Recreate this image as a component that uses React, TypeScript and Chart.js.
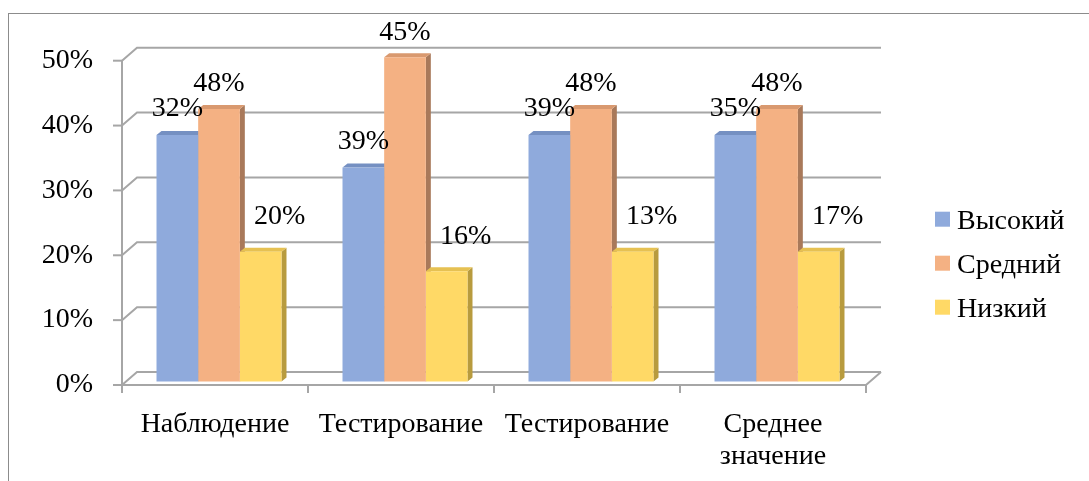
import React, { useEffect, useRef } from 'react';
import { Chart, registerables } from 'chart.js';

Chart.register(...registerables);

// ---- data ----
const categories: (string | string[])[] = ['Наблюдение', 'Тестирование', 'Тестирование', ['Среднее', 'значение']];
const seriesNames = ['Высокий', 'Средний', 'Низкий'];
const highValues = [38, 33, 38, 38];
const midValues = [42, 50, 42, 42];
const lowValues = [20, 17, 20, 20];
const highLabels = ['32%', '39%', '39%', '35%'];
const midLabels = ['48%', '45%', '48%', '48%'];
const lowLabels = ['20%', '16%', '13%', '17%'];
const yMin = 0;
const yMax = 50;
const yStep = 10;

// ---- styles ----
const FONT = "'Liberation Serif', 'Times New Roman', serif";
const FONT_SIZE = 28;
const frontColors = ['#8FAADC', '#F4B183', '#FFD966'];
const sideColors = ['#6E86B3', '#A9795A', '#B89B3E'];
const topColors = ['#7590C2', '#D9996F', '#E6C152'];
const GRID = '#A6A6A6';
const WALL_DX = 15;
const WALL_DY = 13;
const BAR_SHIFT_X = 4;
const BAR_SHIFT_Y = -3.5;
const BAR_DX = 5;
const BAR_DY = 4;
const labelDx = [0, 0, 19];
const labelDy = [-26, -25, -35];

const plot3d = {
  id: 'plot3d',
  beforeDatasetsDraw(chart: any) {
    const { ctx, chartArea: a, scales } = chart;
    const x = scales.x;
    const y = scales.y;
    ctx.save();
    ctx.strokeStyle = GRID;
    ctx.lineWidth = 2;
    y.ticks.forEach((t: any) => {
      const fy = y.getPixelForValue(t.value);
      ctx.beginPath();
      ctx.moveTo(a.left, fy);
      ctx.lineTo(a.left + WALL_DX, fy - WALL_DY);
      ctx.lineTo(a.right + WALL_DX, fy - WALL_DY);
      ctx.stroke();
      ctx.beginPath();
      ctx.moveTo(a.left - 9, fy);
      ctx.lineTo(a.left, fy);
      ctx.stroke();
    });
    const top = y.getPixelForValue(yMax);
    const bottom = y.getPixelForValue(yMin);
    ctx.beginPath();
    ctx.moveTo(a.left, top);
    ctx.lineTo(a.left, bottom + 8);
    ctx.stroke();
    ctx.beginPath();
    ctx.moveTo(a.left, bottom);
    ctx.lineTo(a.right, bottom);
    ctx.lineTo(a.right + WALL_DX, bottom - WALL_DY);
    ctx.stroke();
    const n = x.ticks.length;
    const step = (a.right - a.left) / n;
    for (let i = 0; i <= n; i++) {
      const px = a.left + i * step;
      ctx.beginPath();
      ctx.moveTo(px, bottom);
      ctx.lineTo(px, bottom + 8);
      ctx.stroke();
    }
    ctx.restore();

    ctx.save();
    ctx.translate(BAR_SHIFT_X, BAR_SHIFT_Y);
    const metas = chart.data.datasets.map((_: any, i: number) => chart.getDatasetMeta(i));
    for (let j = 0; j < categories.length; j++) {
      metas.forEach((m: any, i: number) => {
        const el = m.data[j];
        if (!el) return;
        const { x: bx, y: by, base, width } = el.getProps(['x', 'y', 'base', 'width'], true);
        const L = bx - width / 2;
        const R = bx + width / 2;
        ctx.fillStyle = sideColors[i];
        ctx.beginPath();
        ctx.moveTo(R, by);
        ctx.lineTo(R + BAR_DX, by - BAR_DY);
        ctx.lineTo(R + BAR_DX, base - BAR_DY);
        ctx.lineTo(R, base);
        ctx.closePath();
        ctx.fill();
        ctx.fillStyle = topColors[i];
        ctx.beginPath();
        ctx.moveTo(L, by);
        ctx.lineTo(L + BAR_DX, by - BAR_DY);
        ctx.lineTo(R + BAR_DX, by - BAR_DY);
        ctx.lineTo(R, by);
        ctx.closePath();
        ctx.fill();
      });
    }
    // translation kept for the library's own bar drawing; restored afterwards
  },
  afterDatasetsDraw(chart: any) {
    const { ctx } = chart;
    ctx.restore();
    const allLabels = [highLabels, midLabels, lowLabels];
    ctx.save();
    ctx.fillStyle = '#000';
    ctx.font = `${FONT_SIZE}px ${FONT}`;
    ctx.textAlign = 'center';
    ctx.textBaseline = 'middle';
    chart.data.datasets.forEach((_: any, i: number) => {
      const m = chart.getDatasetMeta(i);
      m.data.forEach((el: any, j: number) => {
        const { x: bx, y: by } = el.getProps(['x', 'y'], true);
        ctx.fillText(allLabels[i][j], bx + BAR_SHIFT_X + labelDx[i], by + BAR_SHIFT_Y + labelDy[i]);
      });
    });
    ctx.restore();
  },
  afterDraw(chart: any) {
    const { ctx, chartArea: a } = chart;
    ctx.save();
    ctx.font = `${FONT_SIZE}px ${FONT}`;
    ctx.textAlign = 'left';
    ctx.textBaseline = 'middle';
    seriesNames.forEach((name, i) => {
      const bx = a.right + 69;
      const by = a.top + 151 + i * 44;
      ctx.fillStyle = frontColors[i];
      ctx.fillRect(bx, by, 15, 15);
      ctx.fillStyle = '#000';
      ctx.fillText(name, bx + 22, by + 9.5);
    });
    ctx.restore();
  },
};

export default function App() {
  const ref = useRef<HTMLCanvasElement | null>(null);
  useEffect(() => {
    if (!ref.current) return;
    const chart = new Chart(ref.current, {
      type: 'bar',
      data: {
        labels: categories as any,
        datasets: [
          { label: seriesNames[0], data: highValues, backgroundColor: frontColors[0] },
          { label: seriesNames[1], data: midValues, backgroundColor: frontColors[1] },
          { label: seriesNames[2], data: lowValues, backgroundColor: frontColors[2] },
        ],
      },
      options: {
        animation: false,
        responsive: false,
        devicePixelRatio: 1,
        events: [],
        layout: { padding: { top: 60.7, right: 223, bottom: 0, left: 0 } },
        datasets: { bar: { barPercentage: 1, categoryPercentage: 0.672, clip: false as any } },
        plugins: {
          legend: { display: false },
          tooltip: { enabled: false },
          title: { display: false },
        },
        scales: {
          x: {
            grid: { display: false, drawTicks: false },
            border: { display: false },
            ticks: {
              color: '#000',
              font: { family: FONT, size: FONT_SIZE, lineHeight: 32 / 28 },
              padding: 23.5,
              maxRotation: 0,
              minRotation: 0,
              autoSkip: false,
            },
            afterFit: (s: any) => { s.height = 96; },
          },
          y: {
            min: yMin,
            max: yMax,
            grid: { display: false, drawTicks: false },
            border: { display: false },
            ticks: {
              stepSize: yStep,
              color: '#000',
              font: { family: FONT, size: FONT_SIZE },
              padding: 29,
              callback: (v: any) => `${v}%`,
            },
            afterFit: (s: any) => { s.width = 122; },
          },
        },
      },
      plugins: [plot3d],
    });
    return () => chart.destroy();
  }, []);

  return (
    <div style={{ position: 'fixed', left: 0, top: 0, right: 0, bottom: 0, overflow: 'hidden', background: '#fff' }}>
      <div style={{ position: 'absolute', left: 8, top: 13, width: 1200, height: 600, border: '1px solid #8C8C8C', boxSizing: 'border-box' }} />
      <canvas ref={ref} width={1089} height={481} style={{ position: 'absolute', left: 0, top: 0, width: 1089, height: 481 }} />
    </div>
  );
}
